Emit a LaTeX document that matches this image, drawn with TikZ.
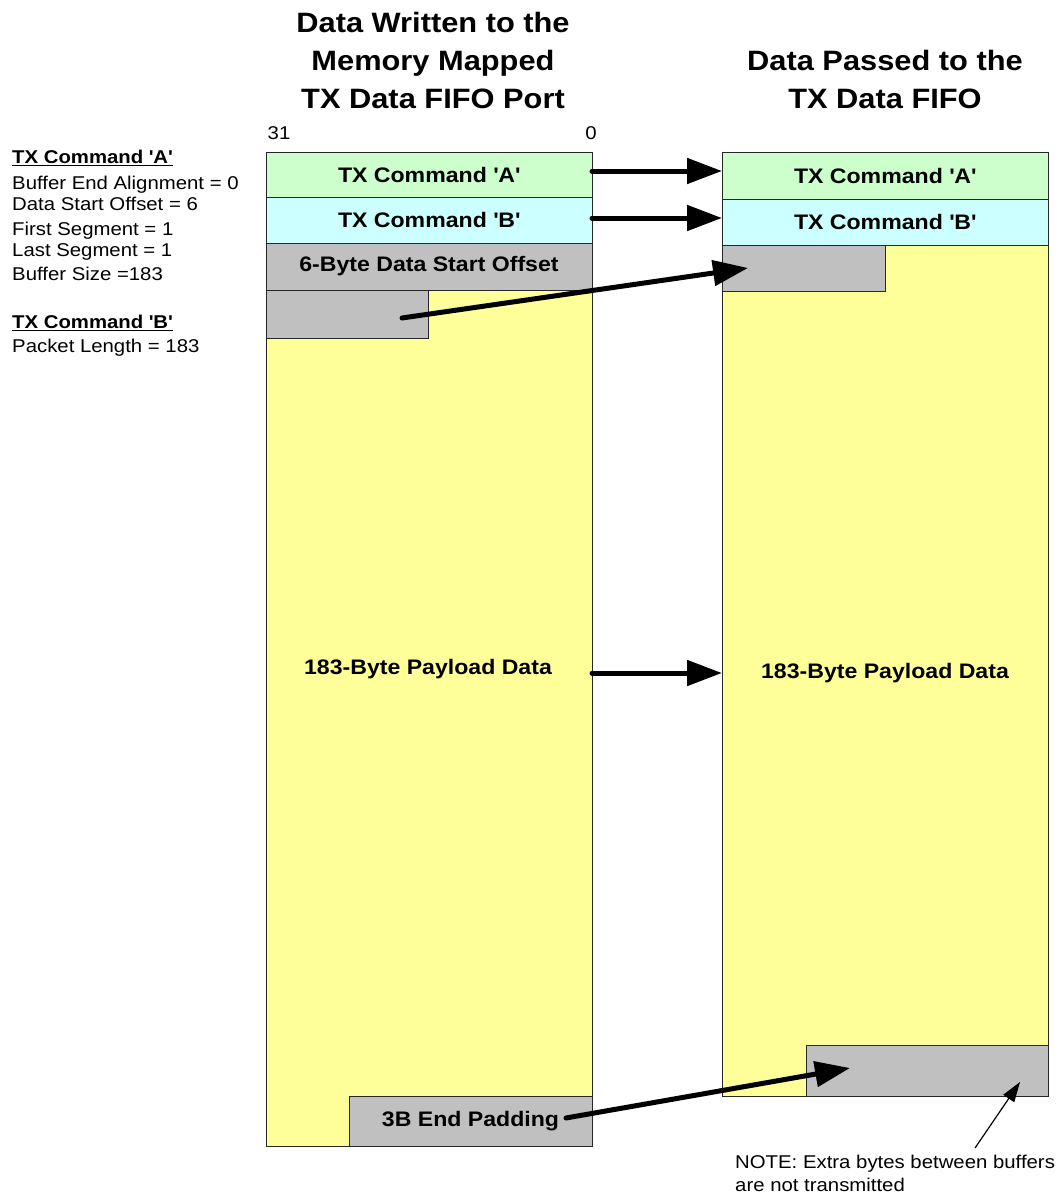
\documentclass[tikz,border=0pt]{standalone}
\usepackage{fontspec}
\setmainfont[FakeStretch=1.1]{Liberation Sans}
\usetikzlibrary{arrows.meta}
\definecolor{cmdA}{HTML}{CCFFCC}
\definecolor{cmdB}{HTML}{CCFFFF}
\definecolor{padgray}{HTML}{C0C0C0}
\definecolor{payload}{HTML}{FFFF99}
\newcommand{\q}{\textquotesingle}
\begin{document}
\begin{tikzpicture}[x=1pt,y=-1pt,
  cell/.style={draw=black!85,line width=0.9pt,inner sep=0pt,outer sep=0pt,anchor=north west,
    font=\fontsize{21}{24}\selectfont\bfseries},
  bigarrow/.style={line width=5pt,line cap=round,-{Triangle[length=35pt,width=25pt]}},
  thinarrow/.style={line width=1.2pt,-{Triangle[length=20pt,width=13pt]}},
  body/.style={font=\fontsize{18.5}{23}\selectfont,inner sep=0pt,anchor=base west},
  title/.style={font=\fontsize{28}{38}\selectfont\bfseries,align=center,inner sep=0pt}]
\useasboundingbox (0,0) rectangle (1060,1199);
% titles
\node[title] (t1) at (433,60) {Data Written to the\\Memory Mapped\\TX Data FIFO Port};
\node[title] (t2) at (885,79) {Data Passed to the\\TX Data FIFO};
\node[body,anchor=base] (b31) at (279,139) {31};
\node[body,anchor=base] (b0) at (591,139) {0};
% left notes
\node[body,font=\fontsize{18.5}{23}\selectfont\bfseries] (nA) at (12,163.5) {\underline{TX Command \q A\q}};
\node[body] (n1) at (12,189.5) {Buffer End Alignment = 0};
\node[body] (n2) at (12,210.5) {Data Start Offset = 6};
\node[body] (n3) at (12,235.5) {First Segment = 1};
\node[body] (n4) at (12,256.5) {Last Segment = 1};
\node[body] (n5) at (12,280.5) {Buffer Size =183};
\node[body,font=\fontsize{18.5}{23}\selectfont\bfseries] (nB) at (12,328.5) {\underline{TX Command \q B\q}};
\node[body] (n6) at (12,352.5) {Packet Length = 183};
% left column
\node[cell,fill=payload,minimum width=326pt,minimum height=856pt] (ly) at (266,290) {};
\node[font=\fontsize{21}{24}\selectfont\bfseries] (lpl) at (428,669) {183-Byte Payload Data};
\node[cell,fill=cmdA,minimum width=326pt,minimum height=45pt] (la) at (266,152) {TX Command \q A\q};
\node[cell,fill=cmdB,minimum width=326pt,minimum height=46pt] (lb) at (266,197) {TX Command \q B\q};
\node[cell,fill=padgray,minimum width=326pt,minimum height=47pt] (loff) at (266,243) {6-Byte Data Start Offset};
\node[cell,fill=padgray,minimum width=162pt,minimum height=48pt] (lg) at (266,290) {};
\node[cell,fill=padgray,minimum width=243pt,minimum height=50pt] (lpad) at (349,1096) {3B End Padding};
% right column
\node[cell,fill=payload,minimum width=326pt,minimum height=851pt] (ry) at (722,245) {};
\node[font=\fontsize{21}{24}\selectfont\bfseries] (rpl) at (885,673) {183-Byte Payload Data};
\node[cell,fill=cmdA,minimum width=326pt,minimum height=47pt] (ra) at (722,152) {TX Command \q A\q};
\node[cell,fill=cmdB,minimum width=326pt,minimum height=46pt] (rb) at (722,199) {TX Command \q B\q};
\node[cell,fill=padgray,minimum width=163pt,minimum height=46pt] (rg) at (722,245) {};
\node[cell,fill=padgray,minimum width=242pt,minimum height=51pt] (rpad) at (806,1045) {};
% note
\node[body,align=left,anchor=north west] (note) at (735,1155) {NOTE: Extra bytes between buffers\\are not transmitted};
\coordinate (notept) at (975,1148);
% arrows
\draw[bigarrow] ([yshift=3.5pt]la.east) -- ([yshift=4.5pt]ra.west);
\draw[bigarrow] ([yshift=2pt]lb.east) -- ([yshift=4pt]rb.west);
\draw[bigarrow] ([yshift=45pt]ly.east) -- ([yshift=-2.5pt]ry.west);
\draw[bigarrow] ([xshift=55pt,yshift=-4pt]lg.center) -- ([xshift=-55.5pt]rg.center);
\draw[bigarrow] ([xshift=-26pt,yshift=3pt]lpad.east) -- ([xshift=-77pt,yshift=2.5pt]rpad.center);
\draw[thinarrow] (notept) -- ([xshift=-28pt,yshift=14pt]rpad.south east);
\end{tikzpicture}
\end{document}
